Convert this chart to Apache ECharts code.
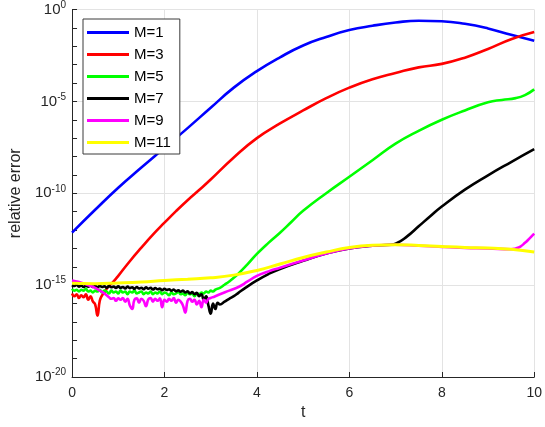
<!DOCTYPE html>
<html>
<head>
<meta charset="utf-8">
<script src="https://cdn.jsdelivr.net/npm/echarts@6/dist/echarts.min.js"></script>
<style>html,body{margin:0;padding:0;background:#fff}#c{width:545px;height:427px}</style>
</head>
<body>
<div id="c"></div>
<script>
const seriesNames = ['M=1','M=3','M=5','M=7','M=9','M=11'];
const xTicks = [0, 2, 4, 6, 8, 10];
const yLabelTicks = [1e-20, 1e-15, 1e-10, 1e-5, 1];

const m1 = [[0,7.2e-13],[0.5,1.26e-11],[1,2.0e-10],[1.5,2.5e-9],[2,2.95e-8],[2.5,3.5e-7],[3,4.5e-6],[3.5,5.6e-5],[4,4.4e-4],[4.5,2.5e-3],[5,1.1e-2],[5.5,3.2e-2],[6,7.6e-2],[6.5,0.13],[7,0.195],[7.5,0.245],[8,0.23],[8.5,0.166],[9,0.093],[9.5,0.042],[10,0.02]];

const m3 = [[0,3.5e-16],[0.05,2.5e-16],[0.1,3.2e-16],[0.15,2.0e-16],[0.2,2.8e-16],[0.25,2.2e-16],[0.3,3.2e-16],[0.35,1.6e-16],[0.4,2.5e-16],[0.45,1.3e-16],[0.5,8.9e-17],[0.55,2.2e-17],[0.6,1.4e-16],[0.65,2.8e-16],[0.7,4.0e-16],[0.75,6.3e-16],
[0.8,8.9e-16],[0.9,1.6e-15],[1.0,3.2e-15],[1.25,2.0e-14],[1.5,1.1e-13],[1.75,5.6e-13],[2,2.5e-12],[2.25,1.07e-11],[2.5,4.2e-11],[2.75,1.5e-10],[3,5.6e-10],[3.5,8.9e-9],[4,1e-7],[4.5,6.3e-7],[5,3.2e-6],[5.5,1.5e-5],[6,5.6e-5],[6.5,1.6e-4],[7,3.5e-4],[7.5,7.1e-4],[8,1.1e-3],[8.5,2.4e-3],[9,7.1e-3],[9.5,2.4e-2],[10,5.9e-2]];

const m5 = [[0,6.3e-16],[0.05,5.0e-16],[0.1,5.6e-16],[0.15,4.5e-16],[0.2,5.6e-16],[0.25,5.0e-16],[0.3,6.3e-16],[0.35,4.5e-16],[0.4,5.0e-16],[0.45,4.0e-16],[0.5,5.0e-16],[0.55,4.5e-16],[0.6,5.6e-16],[0.65,4.0e-16],[0.7,5.0e-16],[0.75,4.5e-16],[0.8,3.5e-16],[0.85,5.0e-16],[0.9,4.0e-16],[0.95,4.5e-16],
[1.0,3.5e-16],[1.05,5.0e-16],[1.1,4.0e-16],[1.15,4.5e-16],[1.2,3.2e-16],[1.25,4.5e-16],[1.3,4.0e-16],[1.35,5.0e-16],[1.4,3.5e-16],[1.45,4.0e-16],[1.5,4.5e-16],[1.55,3.2e-16],[1.6,4.0e-16],[1.65,3.5e-16],[1.7,4.5e-16],[1.75,3.2e-16],[1.8,4.0e-16],[1.85,3.5e-16],[1.9,4.5e-16],[1.95,3.2e-16],
[2.0,4.0e-16],[2.05,3.5e-16],[2.1,2.8e-16],[2.15,4.0e-16],[2.2,3.2e-16],[2.25,3.5e-16],[2.3,4.5e-16],[2.35,3.2e-16],[2.4,3.5e-16],[2.45,2.8e-16],[2.5,4.0e-16],[2.55,3.2e-16],[2.6,3.5e-16],[2.65,2.5e-16],[2.7,3.5e-16],[2.75,3.2e-16],[2.8,4.0e-16],[2.85,3.5e-16],[2.9,4.5e-16],[2.95,4.0e-16],
[3.0,5.0e-16],[3.05,4.5e-16],[3.1,5.6e-16],[3.2,7.1e-16],[3.3,1.05e-15],[3.4,1.58e-15],[3.5,2.5e-15],[3.6,4.2e-15],[3.8,1.4e-14],[4.0,5e-14],[4.25,2e-13],[4.5,7.1e-13],[4.75,2.8e-12],[5,1.1e-11],[5.5,1e-10],[6,7.9e-10],[6.5,6.3e-9],[7,5.0e-8],[7.5,2.5e-7],[8,1e-6],[8.5,3.2e-6],[9,8.9e-6],[9.3,1.2e-5],[9.6,1.5e-5],[9.8,2.2e-5],[10,4.5e-5]];

const m7 = [[0,1.0e-15],[0.05,8.9e-16],[0.1,1.05e-15],[0.15,8.3e-16],[0.2,9.55e-16],[0.25,7.9e-16],[0.3,9.3e-16],[0.35,8.3e-16],[0.4,1.0e-15],[0.45,7.9e-16],[0.5,8.9e-16],[0.55,7.6e-16],[0.6,9.1e-16],[0.65,7.9e-16],[0.7,8.7e-16],[0.75,7.2e-16],[0.8,8.9e-16],[0.85,7.6e-16],[0.9,8.3e-16],[0.95,7.1e-16],
[1.0,8.5e-16],[1.05,7.1e-16],[1.1,7.9e-16],[1.15,6.6e-16],[1.2,8.3e-16],[1.25,6.9e-16],[1.3,7.6e-16],[1.35,6.3e-16],[1.4,7.9e-16],[1.45,6.6e-16],[1.5,7.2e-16],[1.55,6.0e-16],[1.6,7.6e-16],[1.65,6.3e-16],[1.7,7.1e-16],[1.75,5.75e-16],[1.8,6.9e-16],[1.85,6.0e-16],[1.9,6.6e-16],[1.95,5.25e-16],
[2.0,6.3e-16],[2.05,5.5e-16],[2.1,6.0e-16],[2.15,5.0e-16],[2.2,5.75e-16],[2.25,4.6e-16],[2.3,5.25e-16],[2.35,4.4e-16],[2.4,5.0e-16],[2.45,4.0e-16],[2.5,4.6e-16],[2.55,3.5e-16],[2.6,4.2e-16],[2.65,3.2e-16],[2.7,3.8e-16],[2.75,2.5e-16],[2.8,3.2e-16],[2.85,1.6e-16],[2.9,2.5e-16],[2.95,7.9e-17],
[3.0,2.8e-17],[3.05,1e-16],[3.1,5e-17],[3.15,1.1e-16],[3.2,8.9e-17],[3.3,1.26e-16],[3.4,1.8e-16],[3.5,2.5e-16],[3.6,3.8e-16],[3.75,7.1e-16],[4.0,1.8e-15],[4.25,4.0e-15],[4.5,7.6e-15],[5,2.1e-14],[5.5,5.25e-14],[6,1e-13],[6.5,1.38e-13],[6.9,1.58e-13],[7.0,1.78e-13],[7.25,4.5e-13],[7.5,1.58e-12],[7.75,5.6e-12],[8,1.9e-11],[8.5,1.58e-10],[9,9.5e-10],[9.5,5.0e-9],[10,2.5e-8]];

const m9 = [[0,1.8e-15],[0.1,1.58e-15],[0.2,1.35e-15],[0.3,1.12e-15],[0.4,8.9e-16],[0.5,7.1e-16],[0.6,5e-16],[0.7,3.5e-16],[0.75,2.8e-16],
[0.8,2.2e-16],[0.85,1.8e-16],[0.9,2.0e-16],[0.95,1.4e-16],[1.0,1.9e-16],[1.05,1.6e-16],[1.1,2.0e-16],[1.15,1.26e-16],[1.2,1.8e-16],[1.25,7.9e-17],[1.3,5e-17],[1.35,1.6e-16],[1.4,1.9e-16],[1.45,1.1e-16],[1.5,1.8e-16],[1.55,1.4e-16],[1.6,7.1e-17],[1.65,1.66e-16],[1.7,2.0e-16],[1.75,1.26e-16],
[1.8,1.8e-16],[1.85,1.4e-16],[1.9,1.9e-16],[1.95,6.3e-17],[2.0,1.6e-16],[2.05,1.26e-16],[2.1,1.8e-16],[2.15,1.4e-16],[2.2,2.0e-16],[2.25,1.1e-16],[2.3,1.6e-16],[2.35,1.26e-16],[2.4,7.9e-17],[2.45,3.2e-17],[2.5,1.4e-16],[2.55,1.8e-16],[2.6,1.26e-16],[2.65,1.6e-16],[2.7,8.9e-17],[2.75,1.4e-16],
[2.8,6.3e-17],[2.85,1.6e-16],[2.9,1.1e-16],[2.95,1.8e-16],[3.0,2.0e-16],[3.1,2.5e-16],[3.2,3.2e-16],[3.4,5e-16],[3.6,7.9e-16],[3.8,1.58e-15],[4.0,3.2e-15],[4.25,5.6e-15],[4.5,8.9e-15],[5,2.2e-14],[5.5,5.25e-14],[6,1e-13],[6.5,1.4e-13],[7,1.58e-13],[7.5,1.4e-13],[8,1.2e-13],[8.5,1.07e-13],[9,1e-13],[9.5,8.9e-14],[9.6,1e-13],[9.7,1.26e-13],[9.8,2.0e-13],[9.9,3.5e-13],[10,6.3e-13]];

const m11 = [[0,1.26e-15],[0.5,1.2e-15],[1,1.32e-15],[1.5,1.5e-15],[2,1.8e-15],[2.5,2.1e-15],[3,2.5e-15],[3.5,3.5e-15],[4,6.3e-15],[4.5,1.4e-14],[5,3.2e-14],[5.5,6.3e-14],[6,1.12e-13],[6.5,1.48e-13],[7,1.58e-13],[7.5,1.45e-13],[8,1.26e-13],[8.5,1.12e-13],[9,1.05e-13],[9.5,8.9e-14],[10,6.3e-14]];

const seriesData = [m1, m3, m5, m7, m9, m11];
const colors = ['#0000ff', '#ff0000', '#00ff00', '#000000', '#ff00ff', '#ffff00'];
const widths = [2.6, 2.6, 2.6, 2.6, 2.6, 3];

const axisColor = '#262626';
const gridColor = '#e3e3e3';
const font = 'Liberation Sans, Arial, sans-serif';

const chart = echarts.init(document.getElementById('c'), null, {renderer: 'canvas'});

const supFormatter = function (v) {
  const e = Math.round(Math.log10(v));
  if (e % 5 !== 0) return '';
  return '{b|10}{s|' + e + '}';
};

chart.setOption({
  animation: false,
  backgroundColor: '#ffffff',
  color: colors,
  grid: {left: 71, right: 8, top: 8, bottom: 50, containLabel: false},
  legend: {
    data: seriesNames.map(function (n, i) { return {name: n, icon: 'rect', itemStyle: {color: colors[i]}}; }),
    orient: 'vertical',
    left: 83,
    top: 19,
    itemWidth: 42,
    itemHeight: 3,
    itemGap: 7,
    padding: [6, 9, 4, 4],
    backgroundColor: '#ffffff',
    borderColor: '#3a3a3a',
    borderWidth: 1,
    borderRadius: 0,
    textStyle: {fontFamily: font, fontSize: 15, color: '#000', lineHeight: 14}
  },
  xAxis: {
    type: 'value',
    min: 0, max: 10, interval: 2,
    name: 't',
    nameLocation: 'middle',
    nameGap: 28,
    nameTextStyle: {fontFamily: font, fontSize: 16, color: axisColor},
    axisLine: {show: true, lineStyle: {color: axisColor, width: 1}},
    axisTick: {show: true, inside: true, length: 5, lineStyle: {color: axisColor}},
    axisLabel: {margin: 9, fontFamily: font, fontSize: 14, color: axisColor,
      formatter: function (v) { return xTicks.indexOf(v) >= 0 ? String(v) : ''; }},
    splitLine: {show: true, lineStyle: {color: gridColor, width: 1}}
  },
  yAxis: {
    type: 'log',
    logBase: 10,
    min: yLabelTicks[0], max: yLabelTicks[yLabelTicks.length - 1],
    interval: 1,
    name: 'relative error',
    nameLocation: 'middle',
    nameGap: 46,
    nameTextStyle: {fontFamily: font, fontSize: 16, color: axisColor},
    axisLine: {show: true, lineStyle: {color: axisColor, width: 1}},
    axisTick: {show: true, inside: true, length: 5, lineStyle: {color: axisColor, width: 1}},
    axisLabel: {
      margin: 6,
      showMinLabel: true,
      showMaxLabel: true,
      formatter: supFormatter,
      rich: {
        b: {fontFamily: font, fontSize: 15, color: axisColor},
        s: {fontFamily: font, fontSize: 10, color: axisColor, padding: [0, 0, 9, 0]}
      }
    },
    splitLine: {show: true, lineStyle: {color: [gridColor, 'rgba(0,0,0,0)', 'rgba(0,0,0,0)', 'rgba(0,0,0,0)', 'rgba(0,0,0,0)'], width: 1}}
  },
  series: seriesData.map(function (d, i) {
    return {
      name: seriesNames[i],
      type: 'line',
      data: d,
      symbol: 'none',
      smooth: 0.5,
      lineStyle: {color: colors[i], width: widths[i]},
      itemStyle: {color: colors[i]},
      z: 3 + i
    };
  })
});
</script>
</body>
</html>
